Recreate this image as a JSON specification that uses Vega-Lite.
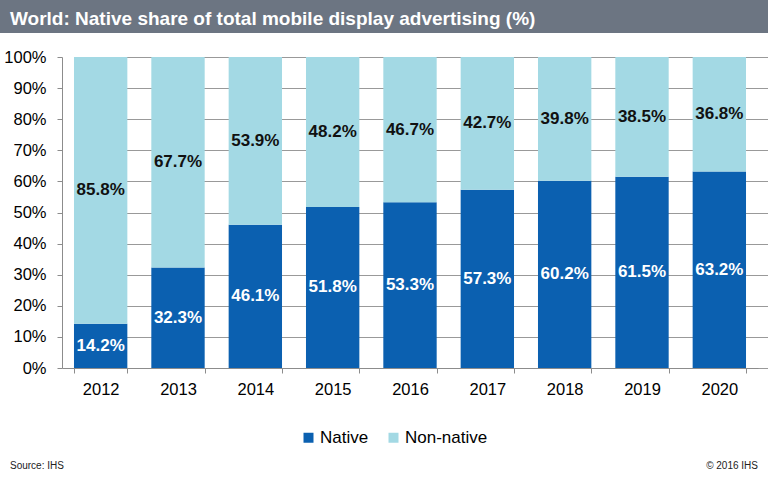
{
  "$schema": "https://vega.github.io/schema/vega-lite/v6.json",
  "background": "#ffffff",
  "padding": 0,
  "config": {
    "font": "Liberation Sans",
    "view": {"stroke": null},
    "axisY": {"labelOverlap": false, "labelFontSize": 16.5, "labelColor": "#000000", "labelPadding": 11, "tickSize": 5, "tickColor": "#8c8c8c", "domainColor": "#8c8c8c", "gridColor": "#999999", "offset": -62}
  },
  "columns": 1,
  "spacing": 16,
  "concat": [
    {
      "width": 768,
      "height": 33,
      "view": {"fill": "#6c7582", "stroke": null},
      "data": {"values": [{"title": "World: Native share of total mobile display advertising (%)"}]},
      "mark": {"type": "text", "align": "left", "baseline": "middle", "dx": 10, "dy": 2, "fontSize": 19, "fontWeight": "bold", "color": "#ffffff"},
      "encoding": {
        "text": {"field": "title"},
        "x": {"datum": 0, "type": "quantitative", "scale": {"domain": [0, 1]}, "axis": null},
        "y": {"datum": 0.5, "type": "quantitative", "scale": {"domain": [0, 1]}, "axis": null}
      }
    },
    {
      "columns": 1,
      "spacing": 63,
      "concat": [
        {
          "width": 768,
          "height": 311,
          "data": {"values": [
            {"year": "2012", "type": "Native", "share": 0.142}, {"year": "2012", "type": "Non-native", "share": 0.858},
            {"year": "2013", "type": "Native", "share": 0.323}, {"year": "2013", "type": "Non-native", "share": 0.677},
            {"year": "2014", "type": "Native", "share": 0.461}, {"year": "2014", "type": "Non-native", "share": 0.539},
            {"year": "2015", "type": "Native", "share": 0.518}, {"year": "2015", "type": "Non-native", "share": 0.482},
            {"year": "2016", "type": "Native", "share": 0.533}, {"year": "2016", "type": "Non-native", "share": 0.467},
            {"year": "2017", "type": "Native", "share": 0.573}, {"year": "2017", "type": "Non-native", "share": 0.427},
            {"year": "2018", "type": "Native", "share": 0.602}, {"year": "2018", "type": "Non-native", "share": 0.398},
            {"year": "2019", "type": "Native", "share": 0.615}, {"year": "2019", "type": "Non-native", "share": 0.385},
            {"year": "2020", "type": "Native", "share": 0.632}, {"year": "2020", "type": "Non-native", "share": 0.368}
          ]},
          "encoding": {
            "x": {
              "field": "year", "type": "nominal", "title": null,
              "scale": {"paddingInner": 0.31, "paddingOuter": 0.155, "range": [62, 758]},
              "axis": {"labelAngle": 0, "labelFontSize": 16.5, "labelColor": "#000000", "labelPadding": 8, "tickBand": "extent", "tickSize": 5, "tickColor": "#8c8c8c", "domainColor": "#8c8c8c", "grid": false}
            }
          },
          "layer": [
            {
              "mark": {"type": "bar"},
              "encoding": {
                "y": {
                  "field": "share", "type": "quantitative", "stack": "zero", "title": null,
                  "scale": {"domain": [0, 1]},
                  "axis": {"values": [0, 0.1, 0.2, 0.3, 0.4, 0.5, 0.6, 0.7, 0.8, 0.9, 1], "format": ".0%"}
                },
                "color": {
                  "field": "type", "type": "nominal",
                  "scale": {"domain": ["Native", "Non-native"], "range": ["#0b60b0", "#a3d9e4"]},
                  "legend": {"orient": "none", "legendX": 300, "legendY": 429, "direction": "horizontal", "title": null, "symbolType": "square", "symbolSize": 100, "symbolStrokeWidth": 0, "labelFontSize": 17, "labelColor": "#000000", "columnPadding": 16, "labelOffset": 3, "padding": 0}
                },
                "order": {"field": "type"}
              }
            },
            {
              "transform": [
                {"stack": "share", "groupby": ["year"], "sort": [{"field": "type"}], "as": ["v0", "v1"]},
                {"calculate": "(datum.v0 + datum.v1) / 2", "as": "mid"}
              ],
              "mark": {"type": "text", "fontSize": 17, "fontWeight": "bold", "baseline": "middle"},
              "encoding": {
                "y": {"field": "mid", "type": "quantitative", "scale": {"domain": [0, 1]}, "axis": {"values": [0, 0.1, 0.2, 0.3, 0.4, 0.5, 0.6, 0.7, 0.8, 0.9, 1], "format": ".0%"}},
                "text": {"field": "share", "type": "quantitative", "format": ".1%"},
                "color": {"condition": {"test": "datum.type === 'Native'", "value": "#ffffff"}, "value": "#111111"}
              }
            }
          ]
        },
        {
          "width": 768,
          "height": 10,
          "layer": [
            {
              "data": {"values": [{"note": "Source: IHS"}]},
              "mark": {"type": "text", "align": "left", "baseline": "middle", "dx": 10, "fontSize": 10, "color": "#222222"},
              "encoding": {
                "text": {"field": "note"},
                "x": {"datum": 0, "type": "quantitative", "scale": {"domain": [0, 1]}, "axis": null},
                "y": {"datum": 0.5, "type": "quantitative", "scale": {"domain": [0, 1]}, "axis": null}
              }
            },
            {
              "data": {"values": [{"note": "© 2016 IHS"}]},
              "mark": {"type": "text", "align": "right", "baseline": "middle", "dx": -10, "fontSize": 10, "color": "#222222"},
              "encoding": {
                "text": {"field": "note"},
                "x": {"datum": 1, "type": "quantitative", "scale": {"domain": [0, 1]}, "axis": null},
                "y": {"datum": 0.5, "type": "quantitative", "scale": {"domain": [0, 1]}, "axis": null}
              }
            }
          ]
        }
      ]
    }
  ]
}
